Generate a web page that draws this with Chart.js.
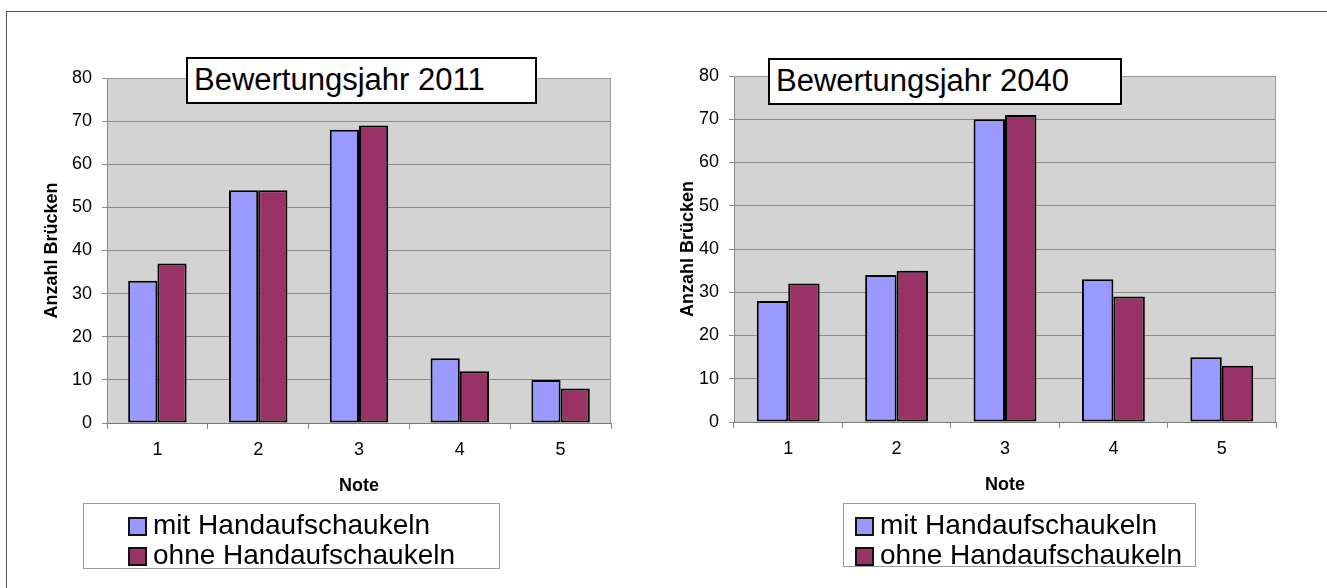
<!DOCTYPE html>
<html>
<head>
<meta charset="utf-8">
<script src="https://cdn.jsdelivr.net/npm/chart.js@4.4.1/dist/chart.umd.min.js"></script>
<style>
  html, body { margin: 0; padding: 0; background: #fff; }
  body { width: 1327px; height: 588px; position: relative; overflow: hidden; font-family: "Liberation Sans", Arial, sans-serif; }
  .frame { position: absolute; left: 6px; top: 11px; width: 1400px; height: 700px; border-top: 1px solid #555; border-left: 1px solid #555; }
  canvas { position: absolute; top: 0; }
  .title-box { position: absolute; background: #fff; border: 2px solid #000; box-sizing: border-box; font-size: 31px; line-height: 42px; padding-left: 6px; color: #000; white-space: nowrap; }
  .legend-box { position: absolute; background: #fff; border: 1px solid #9a9a9a; box-sizing: border-box; font-size: 28px; color: #000; }
  .legend-row { position: absolute; height: 30px; line-height: 30px; white-space: nowrap; }
  .legend-row i { display: inline-block; width: 19px; height: 19px; box-sizing: border-box; border: 2px solid #111; vertical-align: -2px; margin-right: 6px; }
</style>
</head>
<body>
<div class="frame"></div>
<canvas id="chart2011" width="660" height="588" style="left:0px"></canvas>
<canvas id="chart2040" width="667" height="588" style="left:660px"></canvas>

<script>
// Data
const notes = ['1', '2', '3', '4', '5']
const mit2011 = [33, 54, 68, 15, 10]
const ohne2011 = [37, 54, 69, 12, 8]
const mit2040 = [28, 34, 70, 33, 15]
const ohne2040 = [32, 35, 71, 29, 13]
const seriesLabels = ['mit Handaufschaukeln', 'ohne Handaufschaukeln']
const seriesColors = ['#9999ff', '#993366']
const yMin = 0
const yMax = 80
const yStep = 10

const fontFamily = '"Liberation Sans", Arial, sans-serif'

// grey plot area like the old Excel charts
const plotBackground = {
    id: 'plotBackground',
    beforeDraw(chart) {
        const { ctx, chartArea: a } = chart
        ctx.save()
        ctx.fillStyle = '#d3d3d3'
        ctx.fillRect(a.left, a.top, a.right - a.left, a.bottom - a.top)
        ctx.restore()
    },
    afterDraw(chart) {
        const { ctx, chartArea: a } = chart
        ctx.save()
        ctx.strokeStyle = '#9a9a9a'
        ctx.lineWidth = 1
        ctx.beginPath()
        ctx.moveTo(a.left, a.top + 0.5)
        ctx.lineTo(a.right - 0.5, a.top + 0.5)
        ctx.lineTo(a.right - 0.5, a.bottom)
        ctx.stroke()
        ctx.restore()
    }
}

function makeChart(canvasId, mit, ohne, area, yTitleX) {
    const canvas = document.getElementById(canvasId)
    const W = canvas.width
    const H = canvas.height
    const xAxisHeight = 80

    return new Chart(canvas.getContext('2d'), {
        type: 'bar',
        data: {
            labels: notes,
            datasets: [
                {
                    label: seriesLabels[0],
                    data: mit,
                    backgroundColor: seriesColors[0],
                    borderColor: '#000',
                    borderWidth: 2,
                    borderSkipped: false
                },
                {
                    label: seriesLabels[1],
                    data: ohne,
                    backgroundColor: seriesColors[1],
                    borderColor: '#000',
                    borderWidth: 2,
                    borderSkipped: false
                }
            ]
        },
        options: {
            responsive: false,
            animation: false,
            datasets: {
                bar: { categoryPercentage: 0.58, barPercentage: 1 }
            },
            layout: {
                padding: { left: 0, top: area.top, right: W - area.right, bottom: H - area.bottom - xAxisHeight }
            },
            plugins: {
                legend: { display: false },
                tooltip: { enabled: false }
            },
            scales: {
                x: {
                    afterFit: (scale) => { scale.height = xAxisHeight },
                    grid: { display: true, drawOnChartArea: false, drawTicks: true, tickLength: 6, color: '#8a8a8a' },
                    border: { display: true, color: '#7a7a7a', width: 1 },
                    ticks: { color: '#000', padding: 10, font: { family: fontFamily, size: 18 } },
                    title: {
                        display: true,
                        text: 'Note',
                        color: '#000',
                        padding: { top: 0, bottom: 6 },
                        font: { family: fontFamily, size: 18, weight: 'bold' }
                    }
                },
                y: {
                    min: yMin,
                    max: yMax,
                    afterFit: (scale) => { scale.width = area.left },
                    grid: { color: '#8a8a8a', lineWidth: 1, drawTicks: true, tickLength: 5 },
                    border: { display: true, color: '#8a8a8a', width: 1 },
                    ticks: { stepSize: yStep, color: '#000', padding: 10, font: { family: fontFamily, size: 18 } },
                    title: {
                        display: true,
                        text: 'Anzahl Brücken',
                        color: '#000',
                        padding: { top: yTitleX - 10.8, bottom: 0 },
                        font: { family: fontFamily, size: 18, weight: 'bold' }
                    }
                }
            }
        },
        plugins: [plotBackground]
    })
}

makeChart('chart2011', mit2011, ohne2011, { left: 107, top: 78, right: 611, bottom: 423 }, 52)
makeChart('chart2040', mit2040, ohne2040, { left: 74, top: 76, right: 616, bottom: 422 }, 28)

// title boxes and legends as html on top of the canvases
function addTitle(text, left, top, width, height) {
    const box = document.createElement('div')
    box.className = 'title-box'
    box.style.cssText = `left:${left}px;top:${top}px;width:${width}px;height:${height}px;`
    box.textContent = text
    document.body.appendChild(box)
}

function addLegend(left, top, width, height, textLeft) {
    const box = document.createElement('div')
    box.className = 'legend-box'
    box.style.cssText = `left:${left}px;top:${top}px;width:${width}px;height:${height}px;`
    seriesLabels.forEach((label, i) => {
        const row = document.createElement('div')
        row.className = 'legend-row'
        row.style.left = textLeft + 'px'
        row.style.top = (6 + i * 30) + 'px'
        const swatch = document.createElement('i')
        swatch.style.background = seriesColors[i]
        row.appendChild(swatch)
        row.appendChild(document.createTextNode(label))
        box.appendChild(row)
    })
    document.body.appendChild(box)
}

addTitle('Bewertungsjahr 2011', 186, 57, 351, 47)
addTitle('Bewertungsjahr 2040', 768, 58, 354, 47)
addLegend(83, 503, 417, 66, 44)
addLegend(843, 503, 353, 64, 11)
</script>
</body>
</html>
